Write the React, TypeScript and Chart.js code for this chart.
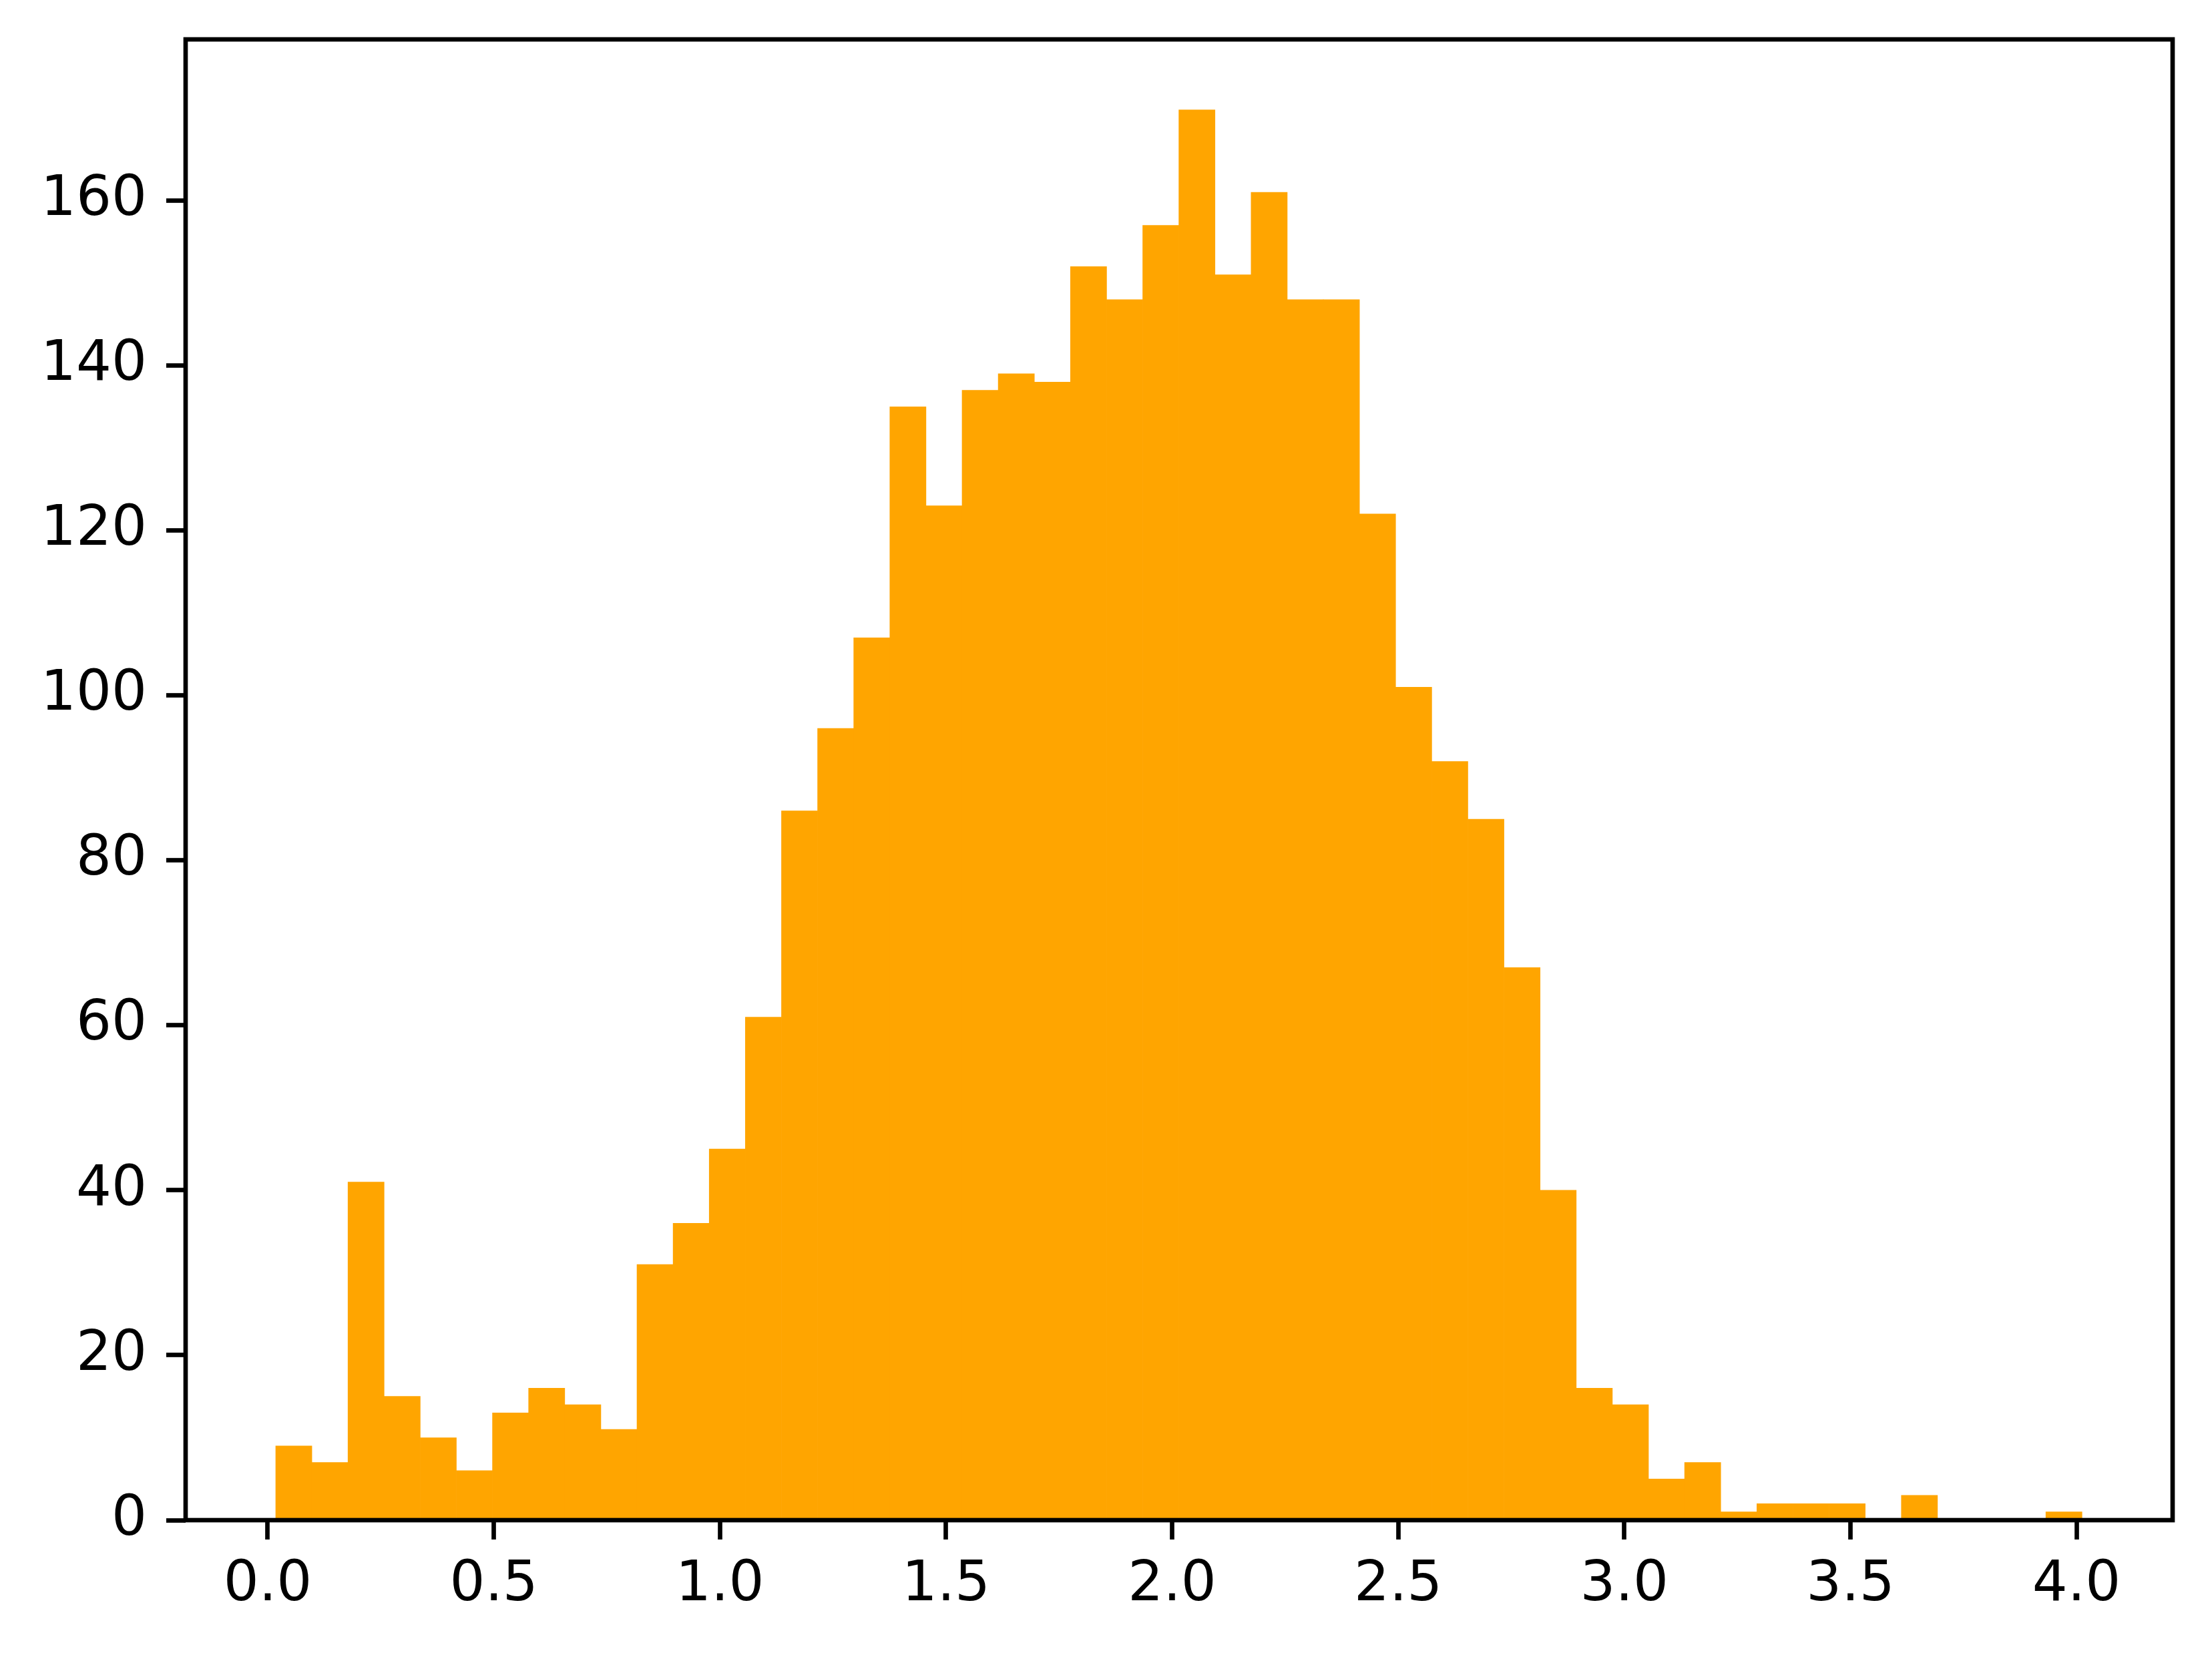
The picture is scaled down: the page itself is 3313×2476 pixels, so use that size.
import React, { useEffect, useRef } from "react";
import { Chart, registerables } from "chart.js";

Chart.register(...registerables);

// Histogram data (50 equal-width bins)
const binStart = 0.0177;
const binWidth = 0.07989;
const counts = [
  9, 7, 41, 15, 10, 6, 13, 16, 14, 11,
  31, 36, 45, 61, 86, 96, 107, 135, 123, 137,
  139, 138, 152, 148, 157, 171, 151, 161, 148, 148,
  122, 101, 92, 85, 67, 40, 16, 14, 5, 7,
  1, 2, 2, 2, 0, 3, 0, 0, 0, 1,
];
const xTicks = [0, 0.5, 1.0, 1.5, 2.0, 2.5, 3.0, 3.5, 4.0];
const yTicks = [0, 20, 40, 60, 80, 100, 120, 140, 160];
const xLimits = [-0.1816, 4.2126];
const yLimits = [0, 179.55];

const W = 3313;
const H = 2476;
const LINE = 6.67;
const TICK_LEN = 29;
const FONT = { family: "'DejaVu Sans'", size: 83.3 };

const frame = {
  id: "frame",
  afterDatasetsDraw(chart: any) {
    const { ctx, chartArea } = chart;
    ctx.save();
    ctx.strokeStyle = "#000000";
    ctx.lineWidth = LINE;
    ctx.lineJoin = "miter";
    ctx.strokeRect(
      chartArea.left,
      chartArea.top,
      chartArea.right - chartArea.left,
      chartArea.bottom - chartArea.top
    );
    ctx.restore();
  },
};

export default function App() {
  const ref = useRef<HTMLCanvasElement | null>(null);

  useEffect(() => {
    if (!ref.current) return;
    const data = counts.map((c, i) => ({ x: binStart + (i + 0.5) * binWidth, y: c }));
    const chart = new Chart(ref.current, {
      type: "bar",
      data: {
        datasets: [
          {
            data: data as any,
            backgroundColor: "#FFA500",
            borderWidth: 0,
            barPercentage: 1,
            categoryPercentage: 1,
          },
        ],
      },
      options: {
        responsive: false,
        animation: false,
        devicePixelRatio: 1,
        layout: { padding: { top: 59, right: 59, left: 0, bottom: 0 } },
        plugins: { legend: { display: false }, tooltip: { enabled: false } },
        scales: {
          x: {
            type: "linear",
            min: xLimits[0],
            max: xLimits[1],
            offset: false,
            grid: {
              display: true,
              drawOnChartArea: false,
              drawTicks: true,
              tickLength: TICK_LEN,
              tickWidth: LINE,
              tickColor: "#000000",
              offset: false,
              z: 1,
            },
            border: { display: false },
            ticks: {
              font: FONT,
              color: "#000000",
              padding: 19,
              maxRotation: 0,
              autoSkip: false,
              callback: (v: any) => Number(v).toFixed(1),
            },
            afterBuildTicks: (axis: any) => {
              axis.ticks = xTicks.map((v) => ({ value: v }));
            },
            afterFit: (s: any) => {
              s.height = H - 2277;
              s.paddingLeft = 0;
              s.paddingRight = 0;
            },
          },
          y: {
            type: "linear",
            min: yLimits[0],
            max: yLimits[1],
            grid: {
              display: true,
              drawOnChartArea: false,
              drawTicks: true,
              tickLength: TICK_LEN,
              tickWidth: LINE,
              tickColor: "#000000",
              z: 1,
            },
            border: { display: false },
            ticks: {
              font: FONT,
              color: "#000000",
              padding: 29,
              autoSkip: false,
              callback: (v: any) => String(v),
            },
            afterBuildTicks: (axis: any) => {
              axis.ticks = yTicks.map((v) => ({ value: v }));
            },
            afterFit: (s: any) => {
              s.width = 278;
              s.paddingTop = 0;
              s.paddingBottom = 0;
            },
          },
        },
      },
      plugins: [frame],
    });
    return () => chart.destroy();
  }, []);

  return (
    <div style={{ position: "absolute", left: 0, top: 0, width: W, height: H, background: "#ffffff" }}>
      <canvas ref={ref} width={W} height={H} style={{ display: "block", width: W, height: H }} />
    </div>
  );
}
